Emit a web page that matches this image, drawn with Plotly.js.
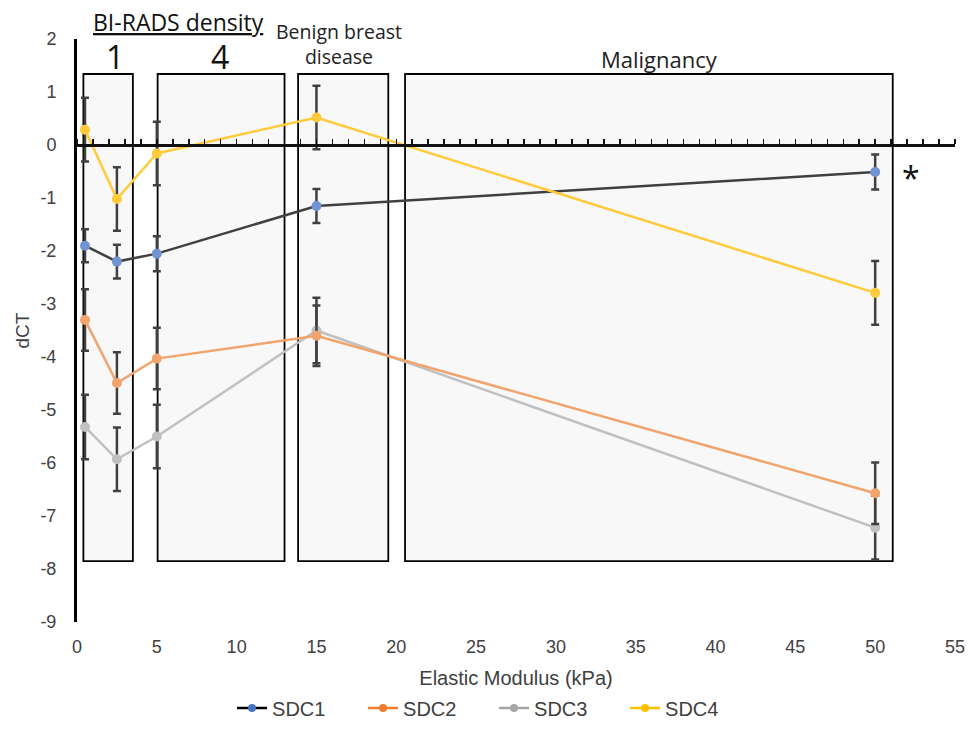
<!DOCTYPE html>
<html>
<head>
<meta charset="utf-8">
<script src="https://cdn.plot.ly/plotly-3.0.1.min.js"></script>
<style>html,body{margin:0;padding:0;background:#fff;}#chart{width:979px;height:744px;}</style>
</head>
<body>
<div id="chart"></div>
<script>
// ---- data ----
var stiffness = [0.5, 2.5, 5, 15, 50];
var seriesNames = ["SDC1", "SDC2", "SDC3", "SDC4"];
var sdc1 = [-1.9, -2.2, -2.05, -1.15, -0.51];
var sdc2 = [-3.3, -4.49, -4.03, -3.6, -6.57];
var sdc3 = [-5.32, -5.93, -5.5, -3.5, -7.22];
var sdc4 = [0.29, -1.02, -0.16, 0.52, -2.79];
var sdc1Err = [0.31, 0.32, 0.33, 0.32, 0.33];
var sdc2Err = [0.58, 0.58, 0.58, 0.57, 0.58];
var sdc3Err = [0.61, 0.6, 0.6, 0.62, 0.6];
var sdc4Err = [0.6, 0.6, 0.6, 0.6, 0.6];
var xTicks = [0, 5, 10, 15, 20, 25, 30, 35, 40, 45, 50, 55];
var yTicks = [2, 1, 0, -1, -2, -3, -4, -5, -6, -7, -8, -9];
// shaded group regions (kPa)
var regionStart = [0.4, 5.05, 13.85, 20.55];
var regionEnd = [3.5, 13.0, 19.5, 51.1];
var regionBottom = -7.85, regionTop = 1.34;

var lineColors = ["#404040", "#F2A46E", "#C0C0C0", "#FFCB3D"];
var markerColors = ["#7294D2", "#F2A46E", "#C0C0C0", "#FFCB3D"];
var legendColors = ["#000000", "#ED7D31", "#A5A5A5", "#FFC000"];
var legendMarker = ["#4472C4", "#ED7D31", "#A5A5A5", "#FFC000"];
var values = [sdc1, sdc2, sdc3, sdc4];
var errs = [sdc1Err, sdc2Err, sdc3Err, sdc4Err];

var traces = [];
[2, 1, 0, 3].forEach(function (i) {
  traces.push({
    x: stiffness, y: values[i], type: "scatter", mode: "lines+markers",
    name: seriesNames[i], showlegend: false, cliponaxis: false,
    line: {color: lineColors[i], width: 2.5},
    marker: {color: markerColors[i], size: 10},
    error_y: {type: "data", array: errs[i], visible: true, color: "#404040", thickness: 2.5, width: 4}
  });
});
[0, 1, 2, 3].forEach(function (i) {
  traces.push({
    x: [null], y: [null], type: "scatter", mode: "lines+markers",
    name: seriesNames[i], showlegend: true,
    line: {color: legendColors[i], width: 2.5},
    marker: {color: legendMarker[i], size: 8}
  });
});
traces.push({x: [0, 55], y: [null, null], xaxis: "x2", yaxis: "y", showlegend: false, hoverinfo: "skip", mode: "lines"});

var shapes = regionStart.map(function (s, k) {
  return {type: "rect", xref: "x", yref: "y", x0: s, x1: regionEnd[k], y0: regionBottom, y1: regionTop,
          fillcolor: "#F8F8F8", line: {color: "#000", width: 1.8}, layer: "below"};
});

var txt = "#404040";
var annotations = [
  {text: "<u>BI-RADS density</u>", x: 6.33, yref: "paper", y: 1.029, font: {size: 23, color: "#111"}},
  {text: "1", x: 2.4, y: 1.67, font: {size: 32, color: "#111"}},
  {text: "4", x: 8.97, y: 1.67, font: {size: 32, color: "#111"}},
  {text: "Benign breast<br>disease", x: 16.4, y: 1.9, font: {size: 19.5, color: "#222"}},
  {text: "Malignancy", x: 36.5, y: 1.63, font: {size: 22, color: "#222"}},
  {text: "*", x: 52.25, y: -0.62, font: {size: 32, color: "#111"}}
].map(function (a) {
  a.xref = "x"; if (!a.yref) a.yref = "y"; a.showarrow = false; a.xanchor = "center"; a.yanchor = "middle";
  a.font.family = "Open Sans, Noto Sans, sans-serif";
  return a;
});

var layout = {
  width: 979, height: 744,
  margin: {l: 77, r: 24, t: 39, b: 122},
  paper_bgcolor: "#fff", plot_bgcolor: "rgba(0,0,0,0)",
  font: {family: "Liberation Sans, Arial, sans-serif", size: 16, color: txt},
  showlegend: true,
  legend: {orientation: "h", x: 0.475, xanchor: "center", xref: "paper", y: -0.1475, yanchor: "middle",
           font: {size: 20, color: txt}, itemwidth: 30, entrywidth: 86, entrywidthmode: "pixels", tracegroupgap: 0},
  xaxis: {range: [0, 55], tickvals: xTicks, ticktext: xTicks.map(String), showgrid: false, zeroline: false,
          showline: false, ticks: "", ticklabelstandoff: 12, tickfont: {size: 18},
          title: {text: "Elastic Modulus (kPa)", standoff: 14, font: {size: 20, color: txt}}},
  xaxis2: {range: [0, 55], overlaying: "x", anchor: "free", position: 9 / 11, side: "top",
           showline: true, linecolor: "#111", linewidth: 2.5, ticks: "outside", ticklen: 5, tickwidth: 1.5,
           tickcolor: "#111", tick0: 0, dtick: 1, showticklabels: false, showgrid: false, zeroline: false},
  yaxis: {range: [-9, 2], tickvals: yTicks, ticktext: yTicks.map(String), showgrid: false, zeroline: false,
          showline: true, linecolor: "#000", linewidth: 3, ticks: "", ticklabelstandoff: 14, tickfont: {size: 18},
          title: {text: "dCT", standoff: 6, font: {size: 19, color: txt}}},
  shapes: shapes,
  annotations: annotations
};

Plotly.newPlot("chart", traces, layout, {displayModeBar: false, staticPlot: true});
</script>
</body>
</html>
